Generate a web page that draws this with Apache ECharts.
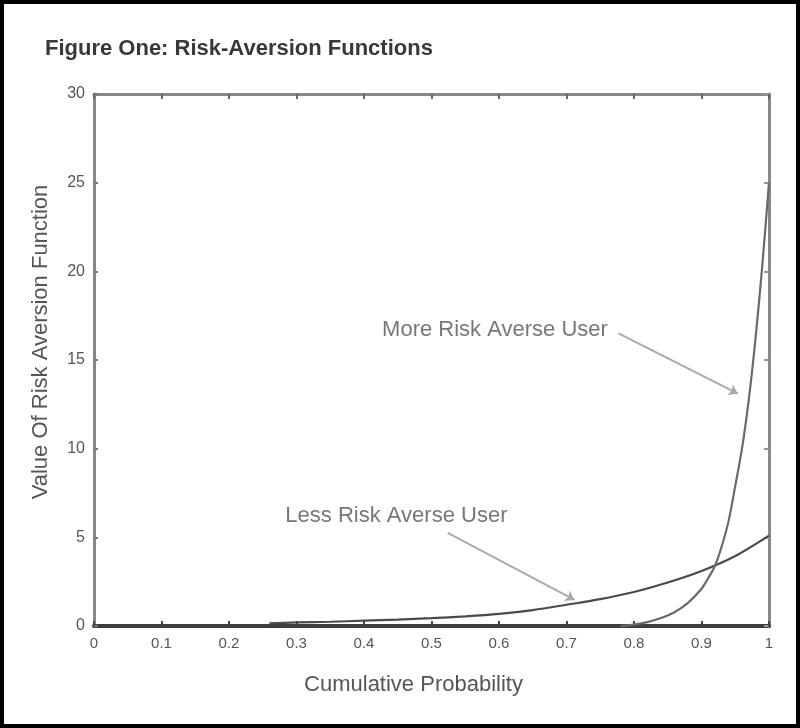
<!DOCTYPE html>
<html>
<head>
<meta charset="utf-8">
<script src="https://cdn.jsdelivr.net/npm/echarts@6/dist/echarts.min.js"></script>
<style>
  html, body { margin: 0; padding: 0; background: #000; }
  #chart { width: 792px; height: 720px; margin: 4px; background: #fff; }
</style>
</head>
<body>
<div id="chart"></div>
<script>
const xTicks = ['0', '0.1', '0.2', '0.3', '0.4', '0.5', '0.6', '0.7', '0.8', '0.9', '1'];
const yTicks = ['0', '5', '10', '15', '20', '25', '30'];

// less risk averse user
const lessX = [0.26, 0.30, 0.35, 0.40, 0.45, 0.50, 0.55, 0.60, 0.65, 0.70, 0.75, 0.80, 0.85, 0.90, 0.95, 1.00];
const lessY = [0.15, 0.2, 0.24, 0.3, 0.36, 0.44, 0.54, 0.68, 0.9, 1.2, 1.52, 1.92, 2.45, 3.1, 3.95, 5.1];

// more risk averse user
const moreX = [0.78, 0.80, 0.82, 0.84, 0.86, 0.88, 0.90, 0.91, 0.92, 0.93, 0.94, 0.95, 0.96, 0.97, 0.98, 0.99, 1.00];
const moreY = [0.0, 0.08, 0.22, 0.45, 0.78, 1.3, 2.1, 2.7, 3.4, 4.5, 5.9, 7.9, 10.0, 12.75, 16.2, 20.3, 25];

// annotation texts, where they sit and where their arrows point
const noteText = ['More Risk Averse User', 'Less Risk Averse User'];
const notePos = [[0.594, 16.7], [0.448, 6.2]];
const arrowFrom = [[0.777, 16.5], [0.524, 5.25]];
const arrowTo = [[0.954, 13.1], [0.712, 1.47]];

const font = "'Liberation Sans Narrow', 'Liberation Sans', Arial, sans-serif";
const zip = (xs, ys) => xs.map((x, i) => [x, ys[i]]);

const chart = echarts.init(document.getElementById('chart'));

const baseX = { type: 'value', min: 0, max: 1, interval: 0.1 };
const baseY = { type: 'value', min: 0, max: 30, interval: 5 };

chart.setOption({
  animation: false,
  title: {
    text: 'Figure One: Risk-Aversion Functions',
    left: 36,
    top: 29,
    textStyle: { fontFamily: 'Liberation Sans, Arial, sans-serif', fontSize: 22, fontWeight: 'bold', color: '#383838' }
  },
  grid: { left: 90, top: 90, right: 27, bottom: 98 },
  xAxis: [
    {
      ...baseX,
      name: 'Cumulative Probability',
      nameLocation: 'middle',
      nameGap: 48,
      nameTextStyle: { fontFamily: font, fontSize: 22, color: '#555', padding: [0, 36, 0, 0] },
      axisLine: { lineStyle: { color: '#3d3d3d', width: 4 } },
      axisTick: { inside: true, length: 5, lineStyle: { color: '#444', width: 2 } },
      axisLabel: {
        margin: 10,
        fontFamily: font,
        fontSize: 15,
        color: '#555',
        formatter: (v) => xTicks[Math.round(v * 10)]
      },
      splitLine: { show: false }
    },
    {
      ...baseX,
      position: 'top',
      axisLine: { onZero: false, lineStyle: { color: '#888', width: 3 } },
      axisTick: { inside: true, length: 5, lineStyle: { color: '#666', width: 2 } },
      axisLabel: { show: false },
      splitLine: { show: false }
    }
  ],
  yAxis: [
    {
      ...baseY,
      name: 'Value Of Risk Aversion Function',
      nameLocation: 'middle',
      nameGap: 42,
      nameRotate: 90,
      nameTextStyle: { fontFamily: font, fontSize: 22, color: '#555', padding: [0, 0, 0, 36] },
      axisLine: { show: true, onZero: false, lineStyle: { color: '#888', width: 3 } },
      axisTick: { show: true, inside: true, length: 4, lineStyle: { color: '#777', width: 2 } },
      axisLabel: {
        margin: 9,
        fontFamily: font,
        fontSize: 16,
        color: '#555',
        padding: [0, 0, 8, 0],
        formatter: (v) => yTicks[Math.round(v / 5)]
      },
      splitLine: { show: false }
    },
    {
      ...baseY,
      position: 'right',
      axisLine: { show: true, onZero: false, lineStyle: { color: '#888', width: 3 } },
      axisTick: { show: true, inside: true, length: 5, lineStyle: { color: '#999', width: 2 } },
      axisLabel: { show: false },
      splitLine: { show: false }
    }
  ],
  series: [
    {
      name: 'Less Risk Averse User',
      type: 'line',
      data: zip(lessX, lessY),
      smooth: 0.3,
      showSymbol: false,
      lineStyle: { color: '#4a4a4a', width: 2.2 },
      z: 3
    },
    {
      name: 'More Risk Averse User',
      type: 'line',
      data: zip(moreX, moreY),
      smooth: 0.3,
      showSymbol: false,
      lineStyle: { color: '#6a6a6a', width: 2.2 },
      z: 3,
      markLine: {
        silent: true,
        symbol: ['none', 'arrow'],
        symbolSize: 9,
        label: { show: false },
        lineStyle: { type: 'solid', color: '#aaa', width: 2 },
        data: arrowFrom.map((p, i) => [{ coord: p }, { coord: arrowTo[i] }])
      }
    },
    {
      type: 'scatter',
      data: notePos.map((p, i) => ({ value: p, name: noteText[i] })),
      symbolSize: 0,
      silent: true,
      label: {
        show: true,
        position: 'inside',
        formatter: (p) => p.name,
        fontFamily: font,
        fontSize: 22,
        color: '#555'
      }
    }
  ]
});
</script>
</body>
</html>
